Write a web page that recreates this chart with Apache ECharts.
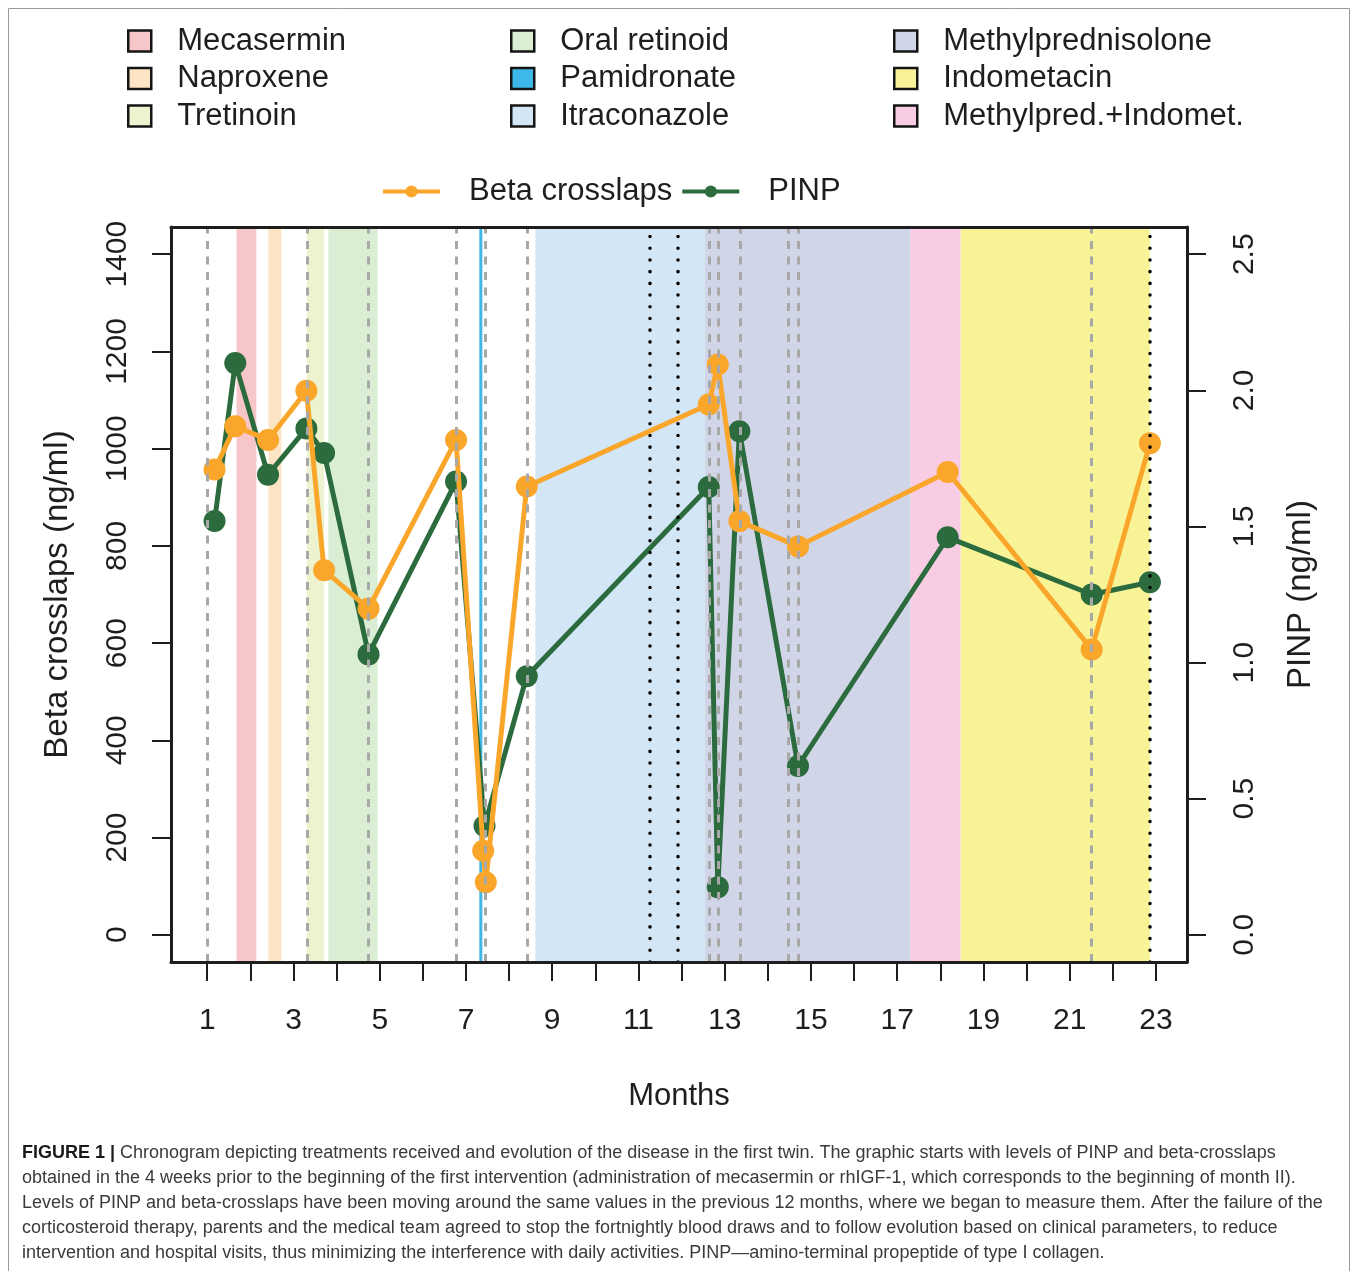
<!DOCTYPE html>
<html><head><meta charset="utf-8">
<script src="https://cdn.jsdelivr.net/npm/echarts@6/dist/echarts.min.js"></script>
<style>html,body{margin:0;padding:0;background:#fff}#c{width:1358px;height:1271px}</style>
</head><body><div id="c"></div>
<script>
// ---- data (months since start) ----
const betaMonths = [1.17, 1.65, 2.41, 3.30, 3.71, 4.74, 6.77, 7.40, 7.46, 8.41, 12.63, 12.84, 13.34, 14.70, 18.17, 21.51, 22.86];
const betaValues = [957, 1046, 1018, 1119, 750, 671, 1018, 173, 108, 922, 1091, 1173, 851, 799, 952, 587, 1011];
const pinpMonths = [1.17, 1.65, 2.41, 3.30, 3.71, 4.74, 6.77, 7.43, 8.41, 12.63, 12.84, 13.34, 14.70, 18.17, 21.51, 22.86];
const pinpValues = [1.52, 2.10, 1.69, 1.86, 1.77, 1.03, 1.665, 0.40, 0.95, 1.645, 0.175, 1.85, 0.62, 1.46, 1.25, 1.295];

const treatmentNames  = ['Mecasermin','Naproxene','Tretinoin','Oral retinoid','Pamidronate','Itraconazole','Methylprednisolone','Indometacin','Methylpred.+Indomet.'];
const treatmentStarts = [1.68, 2.42, 3.31, 3.81, 7.31, 8.61, 12.54, 18.47, 17.31];
const treatmentEnds   = [2.14, 2.72, 3.71, 4.95, 7.38, 12.54, 17.31, 22.86, 18.47];
const treatmentColors = ['#f7c6c9','#fde4c4','#eef3cf','#daeed3','#3db8e8','#d2e6f5','#d1d5e8','#f8f397','#f8cde3'];

const dashedLineMonths = [1.0, 3.31, 4.74, 6.77, 7.44, 8.41, 12.63, 12.84, 13.35, 14.47, 14.71, 21.51];
const dottedLineMonths = [11.27, 11.91, 22.86];

const xTickValues = [1,2,3,4,5,6,7,8,9,10,11,12,13,14,15,16,17,18,19,20,21,22,23];
const xTickLabels = [1,3,5,7,9,11,13,15,17,19,21,23];
const leftTickValues = [0,200,400,600,800,1000,1200,1400];
const rightTickValues = [0,0.5,1.0,1.5,2.0,2.5];

const captionLines = [
  '{b|FIGURE 1 |} Chronogram depicting treatments received and evolution of the disease in the first twin. The graphic starts with levels of PINP and beta-crosslaps',
  'obtained in the 4 weeks prior to the beginning of the first intervention (administration of mecasermin or rhIGF-1, which corresponds to the beginning of month II).',
  'Levels of PINP and beta-crosslaps have been moving around the same values in the previous 12 months, where we began to measure them. After the failure of the',
  'corticosteroid therapy, parents and the medical team agreed to stop the fortnightly blood draws and to follow evolution based on clinical parameters, to reduce',
  'intervention and hospital visits, thus minimizing the interference with daily activities. PINP\u2014amino-terminal propeptide of type I collagen.'
];

// ---- build ----
const FONT = "'Liberation Sans', Arial, Helvetica, sans-serif";
const INK = '#1e1e1e';
const ORANGE = '#f9a62b';
const GREEN = '#2b6b3d';

const chart = echarts.init(document.getElementById('c'), null, {renderer: 'canvas'});

const treatmentSeries = treatmentNames.map((n, i) => ({
  name: n, type: 'line', data: [], z: 1,
  color: treatmentColors[i],
  itemStyle: {color: treatmentColors[i]},
  markArea: {
    silent: true,
    itemStyle: {color: treatmentColors[i], opacity: 1, borderWidth: 0},
    data: [[{xAxis: treatmentStarts[i]}, {xAxis: treatmentEnds[i]}]]
  }
}));

function treatLegend(names, left) {
  return {
    data: names, orient: 'vertical', left: left, top: 20.5,
    icon: 'rect', itemWidth: 23, itemHeight: 21, itemGap: 6.5,
    itemStyle: {borderColor: '#151515', borderWidth: 2.5},
    textStyle: {fontSize: 31, fontFamily: FONT, color: INK, lineHeight: 31, padding: [0,0,0,21]},
    selectedMode: false
  };
}

const option = {
  animation: false,
  textStyle: {fontFamily: FONT},
  grid: {left: 171, top: 227, width: 1016, height: 735, show: false},
  legend: [
    treatLegend(treatmentNames.slice(0,3), 122),
    treatLegend(treatmentNames.slice(3,6), 505),
    treatLegend(treatmentNames.slice(6,9), 888),
    {
      data: ['Beta crosslaps','PINP'], orient: 'horizontal', left: 376, top: 171,
      itemWidth: 57, itemHeight: 15, itemGap: 8,
      lineStyle: {width: 4},
      textStyle: {fontSize: 31, fontFamily: FONT, color: INK, lineHeight: 31, padding: [0,0,0,24]},
      selectedMode: false
    }
  ],
  xAxis: [{
    type: 'value', position: 'bottom', min: 0.16, max: 23.72, z: 10,
    axisLine: {show: true, onZero: false, lineStyle: {color: INK, width: 3}},
    axisTick: {show: true, customValues: xTickValues, length: 19, lineStyle: {color: INK, width: 2}},
    axisLabel: {customValues: xTickLabels, fontSize: 30, color: INK, margin: 44, fontFamily: FONT},
    splitLine: {show: false},
    name: 'Months', nameLocation: 'middle', nameGap: 119,
    nameTextStyle: {fontSize: 31, color: INK, fontFamily: FONT}
  }, {
    type: 'value', position: 'top', min: 0.16, max: 23.72, z: 10,
    axisLine: {show: true, onZero: false, lineStyle: {color: INK, width: 3}},
    axisTick: {show: false}, axisLabel: {show: false}, splitLine: {show: false}
  }],
  yAxis: [{
    type: 'value', position: 'left', min: -56, max: 1456, z: 10,
    axisLine: {show: true, onZero: false, lineStyle: {color: INK, width: 3}},
    axisTick: {show: true, customValues: leftTickValues, length: 19, lineStyle: {color: INK, width: 2}},
    axisLabel: {customValues: leftTickValues, rotate: 90, fontSize: 30, color: INK, margin: 38, fontFamily: FONT,
      formatter: v => String(v)},
    splitLine: {show: false},
    name: 'Beta crosslaps (ng/ml)', nameLocation: 'middle', nameRotate: 90, nameGap: 97,
    nameTextStyle: {fontSize: 33, color: INK, fontFamily: FONT}
  }, {
    type: 'value', position: 'right', min: -0.1, max: 2.6, z: 10,
    axisLine: {show: true, onZero: false, lineStyle: {color: INK, width: 3}},
    axisTick: {show: true, customValues: rightTickValues, length: 19, lineStyle: {color: INK, width: 2}},
    axisLabel: {customValues: rightTickValues, rotate: 90, fontSize: 30, color: INK, margin: 43, fontFamily: FONT,
      formatter: v => Number(v).toFixed(1)},
    splitLine: {show: false},
    name: 'PINP (ng/ml)', nameLocation: 'middle', nameRotate: 90, nameGap: 97,
    nameTextStyle: {fontSize: 33, color: INK, fontFamily: FONT}
  }],
  series: treatmentSeries.concat([
    {
      name: 'dashed', type: 'line', data: [], z: 2,
      markLine: {
        silent: true, symbol: ['none','none'], label: {show: false},
        lineStyle: {color: '#a8a8a8', width: 3, type: [8, 7.5]},
        data: dashedLineMonths.map(m => ({xAxis: m}))
      }
    },
    {
      name: 'dotted', type: 'line', data: [], z: 2,
      markLine: {
        silent: true, symbol: ['none','none'], label: {show: false},
        lineStyle: {color: '#000', width: 3.5, type: [0.1, 11.6], cap: 'round'},
        data: dottedLineMonths.map(m => ({xAxis: m}))
      }
    },
    {
      name: 'PINP', type: 'line', xAxisIndex: 0, yAxisIndex: 1, z: 3,
      data: pinpMonths.map((m, i) => [m, pinpValues[i]]),
      symbol: 'circle', symbolSize: 22,
      lineStyle: {color: GREEN, width: 5}, itemStyle: {color: GREEN}, color: GREEN
    },
    {
      name: 'Beta crosslaps', type: 'line', xAxisIndex: 0, yAxisIndex: 0, z: 4,
      data: betaMonths.map((m, i) => [m, betaValues[i]]),
      symbol: 'circle', symbolSize: 22,
      lineStyle: {color: ORANGE, width: 5}, itemStyle: {color: ORANGE}, color: ORANGE
    }
  ]),
  graphic: [
    {type: 'rect', silent: true, shape: {x: 8.5, y: 8.5, width: 1341, height: 1300},
     style: {fill: 'none', stroke: '#9a9a9a', lineWidth: 1}}
  ].concat(captionLines.map((t, i) => ({
    type: 'text', silent: true, x: 22, y: 1153 + i * 25,
    style: {text: t, fontSize: 18, fontFamily: FONT, fill: '#3a3a3a', verticalAlign: 'middle',
      rich: {b: {fontWeight: 'bold', fill: '#1a1a1a', fontSize: 18, fontFamily: FONT}}}
  })))
};
chart.setOption(option);
</script>
</body></html>
